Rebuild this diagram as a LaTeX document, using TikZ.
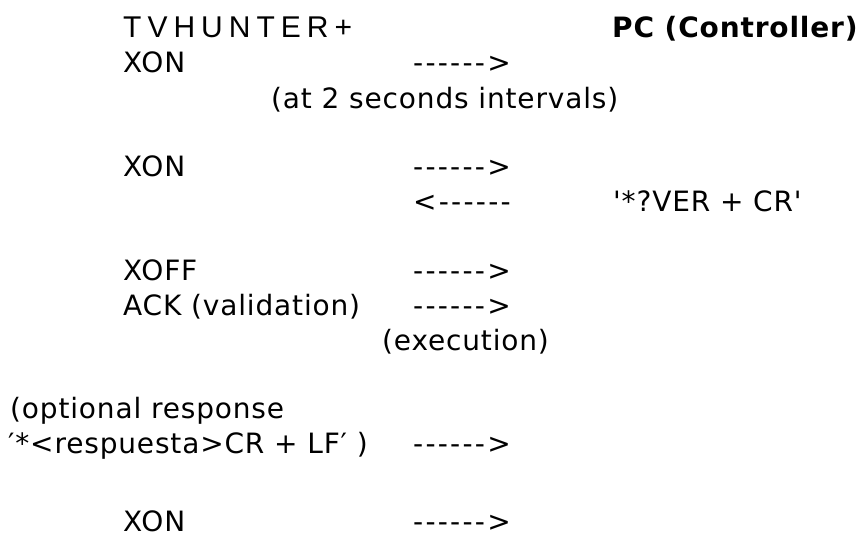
\documentclass[tikz,border=0pt]{standalone}
\usepackage{fontspec}
\newfontfamily\vfont[LetterSpace=3,Ligatures=TeXOff]{DejaVu Sans}
\newfontfamily\arrfont[LetterSpace=8,Ligatures=TeXOff]{DejaVu Sans}
\newfontfamily\hfont[LetterSpace=20,Ligatures=TeXOff]{Liberation Sans}
\newfontfamily\bfont[LetterSpace=3,Ligatures=TeXOff]{DejaVu Sans Bold}
\begin{document}
\begin{tikzpicture}[x=1pt,y=-1pt,
  txt/.style={anchor=base west,inner sep=0pt,font=\vfont\fontsize{28}{35}\selectfont},
  arr/.style={anchor=base west,inner sep=0pt,font=\arrfont\fontsize{28}{35}\selectfont},
  head/.style={anchor=base west,inner sep=0pt,font=\hfont\fontsize{30}{35}\selectfont},
  bhead/.style={anchor=base west,inner sep=0pt,font=\bfont\fontsize{28}{35}\selectfont}]
\useasboundingbox (0,0) rectangle (861,536);
\node[head]  (tv)   at (123,37)  {TVHUNTER+};
\node[bhead] (pc)   at (612,37)  {PC (Controller)};
\node[txt]   (x1)   at (123,72.5){XON};
\node[arr]   (a1)   at (413,72.5){------>};
\node[txt]   (int)  at (271,108) {(at 2 seconds intervals)};
\node[txt]   (x2)   at (123,176) {XON};
\node[arr]   (a2)   at (413,176) {------>};
\node[arr]   (a3)   at (413,211) {<------};
\node[txt]   (ver)  at (613,211) {'*?VER + CR'};
\node[txt]   (xoff) at (123,280) {XOFF};
\node[arr]   (a4)   at (413,280) {------>};
\node[txt]   (ack)  at (123,315) {ACK (validation)};
\node[arr]   (a5)   at (413,315) {------>};
\node[txt]   (exe)  at (382,350) {(execution)};
\node[txt]   (opt)  at (10,418)  {(optional response};
\node[txt]   (resp) at (8,453)   {′*<respuesta>CR + LF′ )};
\node[arr]   (a6)   at (413,453) {------>};
\node[txt]   (x3)   at (123,531) {XON};
\node[arr]   (a7)   at (413,531) {------>};
\end{tikzpicture}
\end{document}
